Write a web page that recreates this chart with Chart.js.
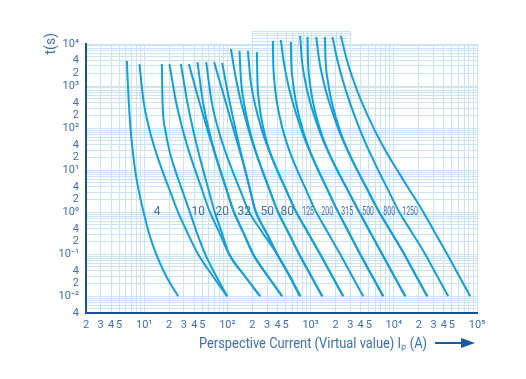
<!DOCTYPE html>
<html>
<head>
<meta charset="utf-8">
<script src="https://cdn.jsdelivr.net/npm/chart.js@4.4.1/dist/chart.umd.min.js"></script>
<style>
  html, body { margin: 0; padding: 0; background: #fff; }
  #wrap { width: 526px; height: 379px; position: relative; }
</style>
</head>
<body>
<div id="wrap"><canvas id="tcc"></canvas></div>
<script>
// lower branches (t <= 10 s), shared where two curves run together. [current A, time s]
const pathL1 = [[7.79, 10], [8.59, 3.34], [9.72, 1.116], [11.33, 0.334], [13.94, 0.1], [18.13, 0.0316], [25.63, 0.01]];
const pathL2 = [[16.45, 10], [20.25, 3.34], [24.93, 1.116], [32.88, 0.334], [44.57, 0.1], [65.67, 0.0316], [99.45, 0.01]];
const pathL3 = [[23.59, 10], [28.62, 3.34], [34.74, 1.116], [42.76, 0.334], [54.11, 0.1], [72.35, 0.0316], [99.45, 0.01]];
const pathL4 = [[41.02, 10], [49.78, 3.34], [60.42, 1.116], [79.68, 0.334], [105.1, 0.1], [159.2, 0.0316], [247.9, 0.01]];
const pathL5 = [[51.19, 10], [59.6, 3.34], [69.38, 1.116], [85.4, 0.334], [105.1, 0.1], [159.2, 0.0316], [247.9, 0.01]];
const pathL6 = [[81.93, 10], [98.1, 3.34], [117.4, 1.116], [154.8, 0.334], [204.2, 0.1], [300.9, 0.0316], [455.7, 0.01]];
const pathL7 = [[114.2, 10], [142.5, 3.34], [177.8, 1.116], [262.0, 0.334], [396.8, 0.1], [553.1, 0.0316], [749.9, 0.01]];
const pathL8 = [[163.7, 10], [187.9, 3.34], [215.9, 1.116], [292.6, 0.334], [396.8, 0.1], [553.1, 0.0316], [749.9, 0.01]];
const pathL9 = [[262.0, 10], [322.4, 3.34], [396.8, 1.116], [538.1, 0.334], [729.5, 0.1], [1003, 0.0316], [1378, 0.01]];
const pathL10 = [[396.8, 10], [509.0, 3.34], [653.0, 1.116], [922.9, 0.334], [1304, 0.1], [1793, 0.0316], [2465, 0.01]];
const pathL11 = [[690.2, 10], [885.4, 3.34], [1136, 1.116], [1605, 0.334], [2269, 0.1], [3119, 0.0316], [4288, 0.01]];
const pathL12 = [[1234, 10], [1605, 3.34], [2088, 1.116], [2871, 0.334], [3948, 0.1], [5425, 0.0316], [7457, 0.01]];
const pathL13 = [[2088, 10], [2792, 3.34], [3734, 1.116], [5204, 0.334], [7254, 0.1], [9972, 0.0316], [13710, 0.01]];
const pathL14 = [[3632, 10], [4857, 3.34], [6494, 1.116], [9306, 0.334], [13340, 0.1], [18340, 0.0316], [25200, 0.01]];
const pathL15 = [[6494, 10], [8564, 3.34], [11300, 1.116], [16410, 0.334], [23850, 0.1], [32780, 0.0316], [45070, 0.01]];
const pathL16 = [[10990, 10], [15530, 3.34], [21950, 1.116], [31010, 0.334], [43840, 0.1], [60260, 0.0316], [82830, 0.01]];

// full curves: upper part read per curve, then the lower branch it joins
const curve01 = [[6.20, 3940], [6.335, 1390], [6.513, 464], [6.883, 89.6], [7.273, 29.9], ...pathL1];
const curve02 = [[8.78, 3340], [9.78, 464], [11.61, 89.6], [13.60, 29.9], ...pathL2];
const curve03 = [[16.32, 3340], [16.59, 464], [17.98, 89.6], [20.03, 29.9], ...pathL3];
const curve04 = [[20.14, 3340], [23.91, 464], [29.10, 89.6], [34.17, 29.9], ...pathL4];
const curve05 = [[27.61, 3340], [32.69, 464], [38.81, 89.6], [44.33, 29.9], ...pathL5];
const curve06 = [[34.45, 3340], [45.32, 464], [57.81, 89.6], [68.63, 29.9], ...pathL6];
const curve07 = [[43.71, 3728], [50.48, 464], [59.94, 89.6], [69.21, 29.9], ...pathL6];
const curve08 = [[55.63, 3728], [64.23, 464], [78.16, 89.6], [93.06, 29.9], ...pathL7];
const curve09 = [[69.38, 3728], [93.83, 464], [119.0, 89.6], [139.8, 29.9], ...pathL8];
const curve10 = [[86.59, 3528], [105.4, 464], [125.9, 89.6], [142.9, 29.9], ...pathL8];
const curve11 = [[110.2, 7600], [127.6, 1390], [144.1, 464], [180.3, 89.6], [215.2, 29.9], ...pathL9];
const curve12 = [[139.8, 6810], [145.7, 1390], [156.1, 464], [184.9, 89.6], [216.4, 29.9], ...pathL9];
const curve13 = [[176.4, 6810], [190.0, 1390], [209.4, 464], [259.9, 89.6], [315.3, 29.9], ...pathL10];
const curve14 = [[226.3, 6450], [229.4, 1390], [238.5, 464], [273.8, 89.6], [319.7, 29.9], ...pathL10];
const curve15 = [[352.3, 11800], [355.2, 4160], [366.2, 1390], [390.2, 464], [464.6, 89.6], [553.1, 29.9], ...pathL11];
const curve16 = [[439.5, 12450], [472.3, 4160], [523.2, 1390], [599.5, 464], [777.5, 89.6], [964.6, 29.9], ...pathL12];
const curve17 = [[579.8, 11150], [584.7, 4160], [609.6, 1390], [660.3, 464], [805.9, 89.6], [972.7, 29.9], ...pathL12];
const curve18 = [[749.9, 15500], [786.2, 4160], [856.3, 1390], [970.0, 464], [1269, 89.6], [1592, 29.9], ...pathL13];
const curve19 = [[917.8, 14680], [930.6, 4160], [972.7, 1390], [1057, 464], [1308, 89.6], [1609, 29.9], ...pathL13];
const curve20 = [[1168, 14680], [1269, 4160], [1417, 1390], [1641, 464], [2183, 89.6], [2769, 29.9], ...pathL14];
const curve21 = [[1486, 14680], [1514, 4160], [1605, 1390], [1774, 464], [2244, 89.6], [2785, 29.9], ...pathL14];
const curve22 = [[1834, 14680], [2099, 4160], [2431, 1390], [2894, 464], [3936, 89.6], [4993, 29.9], ...pathL15];
const curve23 = [[2313, 15500], [2731, 4160], [3260, 1390], [4024, 464], [5880, 89.6], [7902, 29.9], ...pathL16];

const curves = [curve01, curve02, curve03, curve04, curve05, curve06, curve07, curve08,
  curve09, curve10, curve11, curve12, curve13, curve14, curve15, curve16, curve17,
  curve18, curve19, curve20, curve21, curve22, curve23];

// rating labels written at t = 1 s
const ratingLabels = ['4', '10', '20', '32', '50', '80', '125', '200', '315', '500', '800', '1250'];
const ratingLabelCurrents = [14.3, 44.6, 86.6, 159, 301, 523, 935, 1583, 2754, 4920, 8800, 15700];
const ratingLabelTime = 1;

// axes
const xMin = 2, xMax = 1e5;
const yMin = 0.004, yMax = 1e4;
const xLabelMantissas = [1, 2, 3, 4, 5];
const yLabelMantissas = [1, 2, 4];
// small grid block above the top edge
const extCurrents = [200, 3000];
const extTimes = [1.2e4, 1.4e4, 1.6e4, 1.8e4, 2e4];

const curveColor = '#13a0dc';
const gridColor = '#cbe3f6';
const axisColor = '#1b4f9c';
const textColor = '#3f6fb3';

const supMap = { '-': '⁻', '0': '⁰', '1': '¹', '2': '²', '3': '³', '4': '⁴', '5': '⁵', '6': '⁶', '7': '⁷', '8': '⁸', '9': '⁹' };

function logTicks(min, max) {
  const out = [];
  for (let e = Math.floor(Math.log10(min)); e <= Math.ceil(Math.log10(max)); e++) {
    for (let m = 1; m <= 9; m++) {
      const v = +(m * Math.pow(10, e)).toPrecision(6);
      if (v >= min * 0.999 && v <= max * 1.001) out.push({ value: v });
    }
  }
  return out;
}

function tickLabel(value, mantissas) {
  const e = Math.floor(Math.log10(value) + 1e-9);
  const m = Math.round(value / Math.pow(10, e));
  if (!mantissas.includes(m)) return '';
  if (m === 1) return '10' + String(e).split('').map(c => supMap[c]).join('');
  return String(m);
}

const decorations = {
  id: 'decorations',
  beforeDatasetsDraw(chart) {
    const { ctx, scales: { x, y } } = chart;
    ctx.save();
    ctx.strokeStyle = gridColor;
    ctx.lineWidth = 1;
    const xl = x.getPixelForValue(extCurrents[0]);
    const xr = x.getPixelForValue(extCurrents[1]);
    const yb = y.getPixelForValue(yMax);
    const yt = y.getPixelForValue(extTimes[extTimes.length - 1]);
    ctx.beginPath();
    logTicks(extCurrents[0], extCurrents[1]).forEach(t => {
      const px = Math.round(x.getPixelForValue(t.value)) + 0.5;
      ctx.moveTo(px, yb);
      ctx.lineTo(px, yt);
    });
    extTimes.forEach(v => {
      const py = Math.round(y.getPixelForValue(v)) + 0.5;
      ctx.moveTo(xl, py);
      ctx.lineTo(xr, py);
    });
    ctx.stroke();
    ctx.restore();
  },
  afterDraw(chart) {
    const { ctx, chartArea, scales: { x, y } } = chart;
    ctx.save();
    ctx.fillStyle = textColor;
    ctx.textBaseline = 'middle';
    ctx.textAlign = 'center';
    // rating labels
    ratingLabels.forEach((lab, i) => {
      const px = x.getPixelForValue(ratingLabelCurrents[i]);
      const py = y.getPixelForValue(ratingLabelTime);
      ctx.save();
      ctx.translate(px, py);
      if (lab.length > 2) ctx.scale(0.58, 1);
      ctx.font = '12px Roboto';
      ctx.fillText(lab, 0, 0);
      ctx.restore();
    });
    // y title
    ctx.save();
    ctx.translate(chartArea.left - 35, chartArea.top - 11);
    ctx.rotate(-Math.PI / 2);
    ctx.textAlign = 'right';
    ctx.font = '14px Roboto';
    ctx.fillText('t(s)', 0, 0);
    ctx.restore();
    // x title + arrow
    const title = 'Perspective Current (Virtual value) Iₚ (A)';
    ctx.font = '14px Roboto';
    const w = ctx.measureText(title).width;
    const endX = chartArea.right - 50;
    const ty = chartArea.bottom + 31;
    ctx.save();
    ctx.translate(endX, ty);
    ctx.scale(228 / w, 1);
    ctx.textAlign = 'right';
    ctx.fillText(title, 0, 0);
    ctx.restore();
    ctx.strokeStyle = '#1c57aa';
    ctx.fillStyle = '#1c57aa';
    ctx.lineWidth = 2;
    ctx.beginPath();
    ctx.moveTo(chartArea.right - 42, ty - 1);
    ctx.lineTo(chartArea.right - 14, ty - 1);
    ctx.stroke();
    ctx.beginPath();
    ctx.moveTo(chartArea.right - 16, ty - 6);
    ctx.lineTo(chartArea.right - 2, ty - 1);
    ctx.lineTo(chartArea.right - 16, ty + 4);
    ctx.closePath();
    ctx.fill();
    ctx.restore();
  }
};

new Chart(document.getElementById('tcc'), {
  type: 'scatter',
  data: {
    datasets: curves.map(c => ({
      data: c.map(([i, t]) => ({ x: i, y: t })),
      showLine: true,
      borderColor: curveColor,
      borderWidth: 2,
      pointRadius: 0,
      cubicInterpolationMode: 'monotone',
      fill: false,
      clip: false
    }))
  },
  options: {
    responsive: true,
    maintainAspectRatio: false,
    animation: false,
    events: [],
    layout: { padding: { top: 44, right: 49, bottom: 0, left: 0 } },
    plugins: { legend: { display: false }, tooltip: { enabled: false } },
    scales: {
      x: {
        type: 'logarithmic',
        min: xMin,
        max: xMax,
        afterBuildTicks: s => { s.ticks = logTicks(xMin, xMax); },
        afterFit: s => { s.height = 66; },
        grid: { color: gridColor, drawTicks: false },
        border: { color: axisColor, width: 2 },
        ticks: {
          autoSkip: false,
          maxRotation: 0,
          padding: 6,
          color: textColor,
          font: { family: 'Roboto', size: 11 },
          callback: v => tickLabel(v, xLabelMantissas)
        }
      },
      y: {
        type: 'logarithmic',
        min: yMin,
        max: yMax,
        afterBuildTicks: s => { s.ticks = logTicks(yMin, yMax); },
        afterFit: s => { s.width = 86; },
        grid: { color: gridColor, drawTicks: false },
        border: { color: axisColor, width: 2 },
        ticks: {
          autoSkip: false,
          padding: 7,
          color: textColor,
          font: { family: 'Roboto', size: 11 },
          callback: v => tickLabel(v, yLabelMantissas)
        }
      }
    }
  },
  plugins: [decorations]
});
</script>
</body>
</html>
